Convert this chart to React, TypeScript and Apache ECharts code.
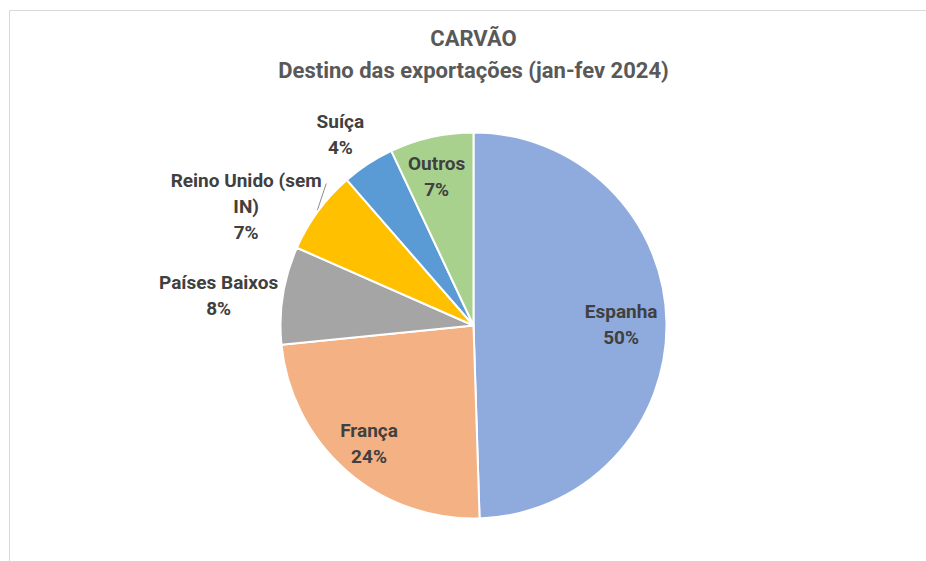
import React, { useEffect, useRef } from "react";
import * as echarts from "echarts";

const categories = ["Espanha", "França", "Países Baixos", "Reino Unido (sem IN)", "Suíça", "Outros"];
const shares = [49.5, 23.9, 8.2, 7.0, 4.4, 7.0];
const colors = ["#8FAADC", "#F4B183", "#A5A5A5", "#FFC000", "#5B9BD5", "#A9D18E"];
const titleLines = ["CARVÃO", "Destino das exportações (jan-fev 2024)"];

// label placement (style): radial distance as fraction of radius and angular nudge (deg)
const LABEL_DIST = [0.765, 0.815, 1.33, 1.33, 1.205, 0.795];
const LABEL_NUDGE = [0.5, 0.4, -2.2, -8.7, -1.8, -1.3];
const LEADER_INDEX = 3;
const LEADER_OFFSET = [9, -27];

const W = 926;
const H = 561;
const CX = 473.5;
const CY = 325.5;
const R = 193;

function wrapName(name: string, max = 16): string {
  if (name.length <= max) return name;
  const cut = name.lastIndexOf(" ", max);
  if (cut <= 0) return name;
  return name.slice(0, cut) + "\n" + name.slice(cut + 1);
}

export default function App() {
  const ref = useRef<HTMLDivElement>(null);
  useEffect(() => {
    if (!ref.current) return;
    const chart = echarts.init(ref.current, null, { renderer: "svg" });
    const total = shares.reduce((a, b) => a + b, 0);
    const mids: number[] = [];
    let acc = 0;
    shares.forEach((v) => {
      const span = (v / total) * 360;
      mids.push(acc + span / 2);
      acc += span;
    });
    const font = "Roboto, 'Noto Sans', sans-serif";
    chart.setOption({
      animation: false,
      backgroundColor: "#ffffff",
      title: {
        text: titleLines.join("\n"),
        left: CX,
        top: 22,
        padding: 0,
        textAlign: "center",
        textStyle: {
          fontFamily: font,
          fontWeight: "bold",
          fontSize: 22,
          color: "#595959",
          lineHeight: 32,
        },
      },
      graphic: [
        {
          type: "polyline",
          silent: true,
          shape: { points: [[9.5, H + 5], [9.5, 10.5], [W + 5, 10.5]] },
          style: { stroke: "#d9d9d9", lineWidth: 1, fill: "none" },
        },
      ],
      series: [
        {
          type: "pie",
          center: [CX, CY],
          radius: R,
          startAngle: 90,
          clockwise: true,
          avoidLabelOverlap: false,
          itemStyle: { borderColor: "#ffffff", borderWidth: 2 },
          label: {
            show: true,
            position: "outside",
            fontFamily: font,
            fontWeight: "bold",
            fontSize: 19,
            lineHeight: 26,
            color: "#404040",
            align: "center",
            formatter: (p: any) => `${wrapName(p.name)}\n${Math.round(p.percent)}%`,
          },
          labelLine: { show: false },
          emphasis: { disabled: true },
          labelLayout: (p: any) => {
            const i = p.dataIndex;
            const a = ((mids[i] + LABEL_NUDGE[i]) * Math.PI) / 180;
            const d = R * LABEL_DIST[i];
            const x = CX + d * Math.sin(a);
            const y = CY - d * Math.cos(a);
            const res: any = { x, y, align: "center", verticalAlign: "middle" };
            if (i === LEADER_INDEX) {
              const m = (mids[i] * Math.PI) / 180;
              const ex = CX + (R + 1) * Math.sin(m);
              const ey = CY - (R + 1) * Math.cos(m);
              const tx = ex + LEADER_OFFSET[0];
              const ty = ey + LEADER_OFFSET[1];
              res.labelLinePoints = [
                [ex, ey],
                [(ex + tx) / 2, (ey + ty) / 2],
                [tx, ty],
              ];
            }
            return res;
          },
          data: categories.map((name, i) => ({
            name,
            value: shares[i],
            itemStyle: { color: colors[i] },
            labelLine:
              i === LEADER_INDEX
                ? { show: true, lineStyle: { color: "#8c8c8c", width: 1 } }
                : { show: false },
          })),
        },
      ],
    });
    return () => chart.dispose();
  }, []);
  return (
    <div
      ref={ref}
      style={{ position: "absolute", left: 0, top: 0, width: W, height: H, overflow: "hidden" }}
    />
  );
}
